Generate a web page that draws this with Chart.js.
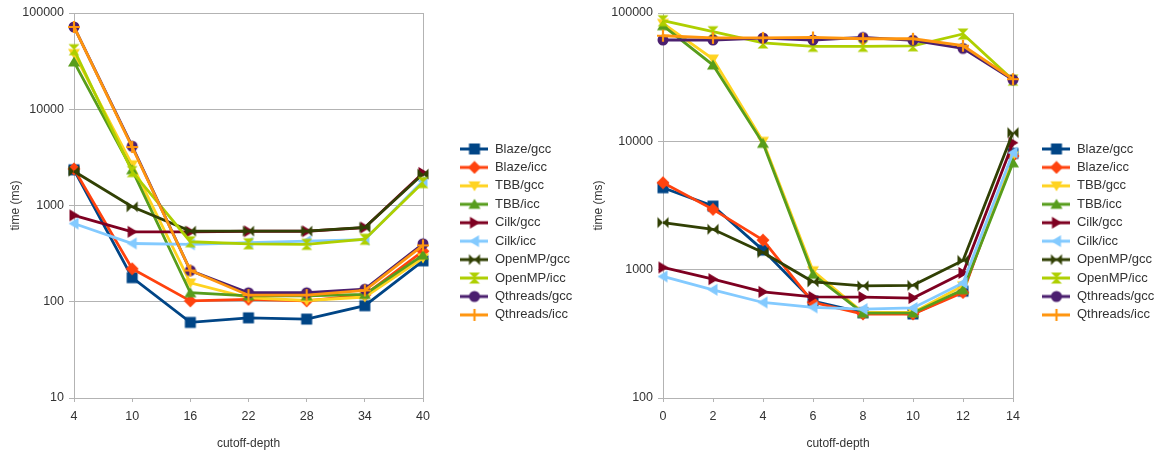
<!DOCTYPE html>
<html>
<head>
<meta charset="utf-8">
<script src="https://cdn.jsdelivr.net/npm/chart.js@4/dist/chart.umd.min.js"></script>
<style>
  body { margin: 0; background: #fff; }
  #wrap { position: relative; width: 1157px; height: 453px; }
  #wrap div { position: absolute; top: 0; height: 453px; }
</style>
</head>
<body>
<div id="wrap">
  <div style="left:0;width:578px"><canvas id="leftChart"></canvas></div>
  <div style="left:578px;width:579px"><canvas id="rightChart"></canvas></div>
</div>
<script>
// series names, colors and marker shapes (LibreOffice default palette)
const seriesNames = ['Blaze/gcc', 'Blaze/icc', 'TBB/gcc', 'TBB/icc', 'Cilk/gcc', 'Cilk/icc',
    'OpenMP/gcc', 'OpenMP/icc', 'Qthreads/gcc', 'Qthreads/icc'];
const seriesColors = ['#004586', '#ff420e', '#ffd320', '#579d1c', '#7e0021', '#83caff',
    '#314004', '#aecf00', '#4b1f6f', '#ff950e'];
const seriesShapes = ['square', 'diamond', 'down', 'up', 'right', 'left',
    'bowtie', 'hourglass', 'circle', 'plus'];

// left chart
const leftDepths = ['4', '10', '16', '22', '28', '34', '40'];
const leftBlazeGcc = [2350, 178, 61, 68, 66, 91, 266];
const leftBlazeIcc = [2400, 220, 102, 106, 102, 118, 335];
const leftTbbGcc = [38000, 2650, 157, 110, 103, 112, 285];
const leftTbbIcc = [31000, 2350, 124, 115, 115, 119, 305];
const leftCilkGcc = [790, 533, 533, 540, 540, 590, 2180];
const leftCilkIcc = [650, 403, 395, 410, 426, 441, 1800];
const leftOmpGcc = [2270, 970, 542, 542, 542, 592, 2120];
const leftOmpIcc = [41600, 2250, 420, 400, 395, 446, 1730];
const leftQthGcc = [71600, 4130, 211, 124, 124, 135, 400];
const leftQthIcc = [71600, 4050, 211, 117, 117, 131, 385];

// right chart
const rightDepths = ['0', '2', '4', '6', '8', '10', '12', '14'];
const rightBlazeGcc = [4350, 3130, 1420, 570, 462, 452, 680, 8050];
const rightBlazeIcc = [4760, 2950, 1700, 557, 451, 451, 664, 7700];
const rightTbbGcc = [83000, 43800, 10000, 980, 464, 464, 748, 7700];
const rightTbbIcc = [79600, 39300, 9650, 920, 458, 460, 697, 6800];
const rightCilkGcc = [1040, 843, 672, 614, 612, 601, 943, 9750];
const rightCilkIcc = [885, 697, 555, 508, 493, 503, 787, 8150];
const rightOmpGcc = [2330, 2065, 1360, 804, 748, 755, 1181, 11700];
const rightOmpIcc = [87100, 71500, 58400, 55000, 55000, 55500, 68600, 30000];
const rightQthGcc = [61600, 61600, 63800, 61600, 64500, 61300, 53000, 30200];
const rightQthIcc = [66500, 64000, 64000, 64500, 63000, 63000, 55600, 30500];

const GRID = '#b3b3b3';
const TEXT = '#333333';
const FONT = "'Liberation Sans', Arial, sans-serif";

function drawMarker(ctx, shape, color, cx, cy) {
    const s = 5.5;
    ctx.fillStyle = color;
    ctx.strokeStyle = color;
    ctx.beginPath();
    const poly = pts => {
        ctx.moveTo(pts[0][0], pts[0][1]);
        for (let i = 1; i < pts.length; i++) ctx.lineTo(pts[i][0], pts[i][1]);
        ctx.closePath();
    };
    if (shape === 'square') ctx.rect(cx - s, cy - s, 2 * s, 2 * s);
    else if (shape === 'diamond') poly([[cx, cy - s - 1], [cx + s + 1, cy], [cx, cy + s + 1], [cx - s - 1, cy]]);
    else if (shape === 'down') poly([[cx - s - 0.5, cy - s + 1], [cx + s + 0.5, cy - s + 1], [cx, cy + s]]);
    else if (shape === 'up') poly([[cx - s - 0.5, cy + s - 1], [cx + s + 0.5, cy + s - 1], [cx, cy - s]]);
    else if (shape === 'right') poly([[cx - s + 1, cy - s - 0.5], [cx - s + 1, cy + s + 0.5], [cx + s, cy]]);
    else if (shape === 'left') poly([[cx + s - 1, cy - s - 0.5], [cx + s - 1, cy + s + 0.5], [cx - s, cy]]);
    else if (shape === 'bowtie') {
        poly([[cx - s, cy - s], [cx, cy], [cx - s, cy + s]]);
        poly([[cx + s, cy - s], [cx, cy], [cx + s, cy + s]]);
    } else if (shape === 'hourglass') {
        poly([[cx - s, cy - s], [cx + s, cy - s], [cx, cy]]);
        poly([[cx - s, cy + s], [cx + s, cy + s], [cx, cy]]);
    } else if (shape === 'circle') ctx.arc(cx, cy, s, 0, Math.PI * 2);
    if (shape === 'plus') {
        ctx.lineWidth = 2.2;
        ctx.moveTo(cx - s - 0.5, cy); ctx.lineTo(cx + s + 0.5, cy);
        ctx.moveTo(cx, cy - s - 0.5); ctx.lineTo(cx, cy + s + 0.5);
        ctx.stroke();
    } else {
        ctx.fill();
    }
}

function pointImage(i) {
    const c = document.createElement('canvas');
    c.width = 14; c.height = 14;
    drawMarker(c.getContext('2d'), seriesShapes[i], seriesColors[i], 7, 7);
    return c;
}

function legendImage(i) {
    const c = document.createElement('canvas');
    c.width = 28; c.height = 14;
    const ctx = c.getContext('2d');
    ctx.strokeStyle = seriesColors[i];
    ctx.lineWidth = 3;
    ctx.beginPath();
    ctx.moveTo(0, 7); ctx.lineTo(28, 7);
    ctx.stroke();
    drawMarker(ctx, seriesShapes[i], seriesColors[i], 14, 7);
    return c;
}

const pointImgs = seriesNames.map((_, i) => pointImage(i));
const legendImgs = seriesNames.map((_, i) => legendImage(i));

// move the legend box to a fixed spot next to the plot
const legendPlace = {
    id: 'legendPlace',
    afterLayout(chart, args, opts) {
        const lg = chart.legend;
        lg.left = opts.x;
        lg.right = opts.x + 200;
        lg.width = 200;
        lg.top = opts.y;
        lg.bottom = chart.height;
        lg.height = chart.height - opts.y;
    }
};

function isPow10(v) {
    const l = Math.log10(v);
    return Math.abs(l - Math.round(l)) < 1e-9;
}

function makeChart(id, labels, values, yMin, axisWidth, padRight, legendX, titleShift) {
    const datasets = values.map((data, i) => ({
        label: seriesNames[i],
        data: data,
        borderColor: seriesColors[i],
        backgroundColor: seriesColors[i],
        borderWidth: 2.8,
        pointStyle: pointImgs[i],
        pointRadius: 6,
        pointHoverRadius: 6,
        tension: 0,
        clip: false,
        order: values.length - i
    }));
    const last = labels.length - 1;
    return new Chart(document.getElementById(id), {
        type: 'line',
        data: { labels: labels, datasets: datasets },
        options: {
            responsive: true,
            maintainAspectRatio: false,
            animation: false,
            events: [],
            layout: { padding: { top: 13, right: padRight, bottom: 0, left: 0 } },
            scales: {
                x: {
                    type: 'category',
                    offset: false,
                    afterFit(scale) { scale.height = 55; },
                    grid: {
                        color: c => c.index === last ? GRID : 'rgba(0,0,0,0)',
                        tickColor: GRID,
                        tickLength: 4,
                        lineWidth: 1
                    },
                    border: { color: GRID },
                    ticks: { color: TEXT, font: { family: FONT, size: 12.5 }, padding: 7, maxRotation: 0 },
                    title: {
                        display: true,
                        text: 'cutoff-depth',
                        color: TEXT,
                        font: { family: FONT, size: 12 },
                        padding: { top: 0, bottom: 2 }
                    }
                },
                y: {
                    type: 'logarithmic',
                    min: yMin,
                    max: 100000,
                    afterFit(scale) { scale.width = axisWidth; },
                    afterBuildTicks(scale) {
                        scale.ticks = scale.ticks.filter(t => isPow10(t.value));
                    },
                    grid: { color: GRID, tickColor: GRID, tickLength: 5, lineWidth: 1 },
                    border: { color: GRID },
                    ticks: {
                        color: TEXT,
                        font: { family: FONT, size: 12.5 },
                        padding: 5,
                        callback: v => String(v)
                    },
                    title: {
                        display: true,
                        text: 'time (ms)',
                        color: TEXT,
                        font: { family: FONT, size: 12 },
                        padding: { top: titleShift, bottom: 0 }
                    }
                }
            },
            plugins: {
                legend: {
                    position: 'chartArea',
                    align: 'start',
                    labels: {
                        usePointStyle: true,
                        pointStyleWidth: 28,
                        padding: 5.44,
                        color: TEXT,
                        font: { family: FONT, size: 13 },
                        generateLabels: chart => chart.data.datasets.map((ds, i) => ({
                            text: ds.label,
                            pointStyle: legendImgs[i],
                            fillStyle: seriesColors[i],
                            strokeStyle: seriesColors[i],
                            lineWidth: 0,
                            hidden: false,
                            fontColor: TEXT,
                            datasetIndex: i
                        }))
                    }
                },
                tooltip: { enabled: false },
                legendPlace: { x: legendX, y: 137 }
            }
        },
        plugins: [legendPlace]
    });
}

makeChart('leftChart', leftDepths,
    [leftBlazeGcc, leftBlazeIcc, leftTbbGcc, leftTbbIcc, leftCilkGcc, leftCilkIcc,
     leftOmpGcc, leftOmpIcc, leftQthGcc, leftQthIcc],
    10, 74, 155, 455, 8);

makeChart('rightChart', rightDepths,
    [rightBlazeGcc, rightBlazeIcc, rightTbbGcc, rightTbbIcc, rightCilkGcc, rightCilkIcc,
     rightOmpGcc, rightOmpIcc, rightQthGcc, rightQthIcc],
    100, 85, 144, 459, 13);
</script>
</body>
</html>
